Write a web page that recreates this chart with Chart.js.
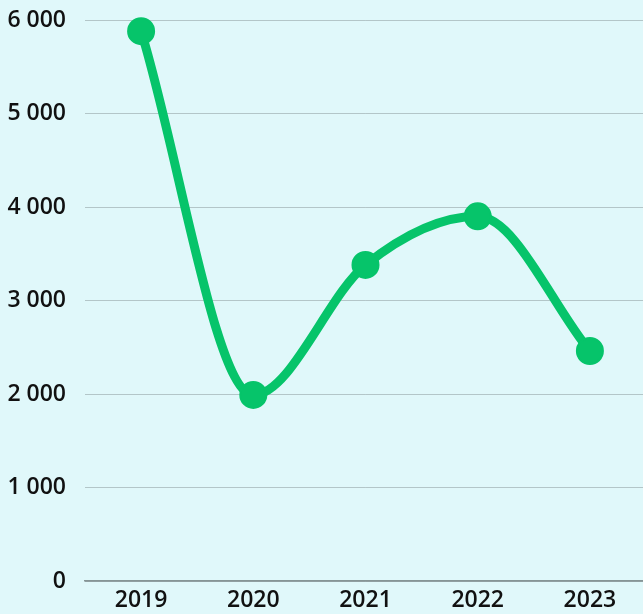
<!DOCTYPE html>
<html>
<head>
<meta charset="utf-8">
<script src="https://cdn.jsdelivr.net/npm/chart.js@4/dist/chart.umd.min.js"></script>
<style>
  html, body { margin: 0; padding: 0; background: #e0f8fa; overflow: hidden; width: 643px; height: 614px; }
  #wrap { width: 646px; height: 614px; position: relative; }
</style>
</head>
<body>
<div id="wrap"><canvas id="c"></canvas></div>
<script>
const categories = ['2019', '2020', '2021', '2022', '2023'];
const values = [5880, 1990, 3380, 3900, 2460];
const yTicks = [0, 1000, 2000, 3000, 4000, 5000, 6000];

function fmt(v) {
  return String(v).replace(/\B(?=(\d{3})+(?!\d))/g, ' ');
}

new Chart(document.getElementById('c'), {
  type: 'line',
  data: {
    labels: categories,
    datasets: [{
      data: values,
      borderColor: '#06c46a',
      backgroundColor: '#06c46a',
      borderWidth: 9,
      cubicInterpolationMode: 'monotone',
      pointRadius: 13,
      pointBorderWidth: 2,
      pointBackgroundColor: '#06c46a',
      pointBorderColor: '#06c46a',
      fill: false,
      clip: false
    }]
  },
  options: {
    responsive: true,
    maintainAspectRatio: false,
    animation: false,
    layout: { autoPadding: false, padding: 0 },
    plugins: { legend: { display: false }, tooltip: { enabled: false } },
    scales: {
      x: {
        z: 1,
        offset: true,
        grid: { display: false, drawTicks: false },
        border: { display: true, color: 'rgba(0,0,0,0.4)', width: 1.5 },
        ticks: {
          padding: 6,
          color: '#111',
          font: { family: 'Open Sans', size: 23, weight: '600' }
        },
        afterFit: (axis) => { axis.height = 33; axis.paddingLeft = 0; axis.paddingRight = 0; }
      },
      y: {
        z: 1,
        min: 0,
        max: 6000,
        afterBuildTicks: (axis) => { axis.ticks = yTicks.map(v => ({ value: v })); },
        grid: { color: 'rgba(0,0,0,0.2)', drawTicks: false, lineWidth: 1 },
        border: { display: false },
        ticks: {
          padding: 19,
          color: '#111',
          font: { family: 'Open Sans', size: 23, weight: '600' },
          callback: (v) => fmt(v)
        },
        afterFit: (axis) => { axis.width = 85; axis.paddingTop = 20; axis.paddingBottom = 0; }
      }
    }
  }
});
</script>
</body>
</html>
